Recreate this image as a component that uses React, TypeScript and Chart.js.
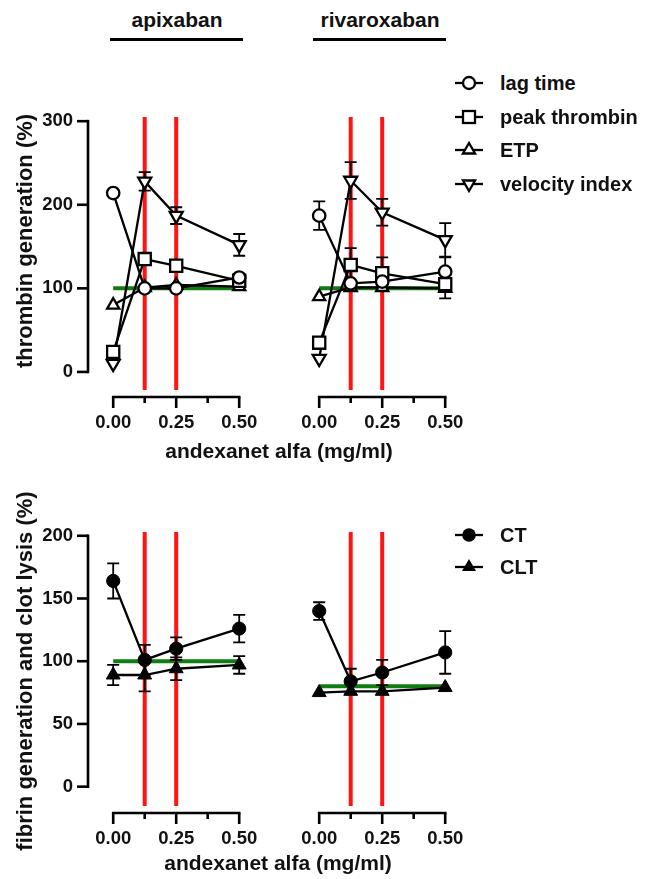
import React, { useEffect, useRef } from "react";
import { Chart, registerables } from "chart.js";

Chart.register(...registerables);

// ---------- data ----------
const doses = [0, 0.125, 0.25, 0.5];
const xTickValues = [0, 0.25, 0.5];
const xMinorTickValues = [0.125, 0.375];
const redLineDoses = [0.125, 0.25];

const tgTicks = [0, 100, 200, 300];
const fgTicks = [0, 50, 100, 150, 200];

// thrombin generation, apixaban
const apixLag = [214, 100, 100, 113];
const apixLagErr = [0, 0, 0, 0];
const apixPeak = [24, 135, 127, 109];
const apixPeakErr = [0, 0, 0, 0];
const apixEtp = [80, 101, 104, 102];
const apixEtpErr = [0, 0, 0, 0];
const apixVel = [10, 228, 187, 152];
const apixVelErr = [0, 11, 10, 13];

// thrombin generation, rivaroxaban
const rivaLag = [187, 106, 108, 120];
const rivaLagErr = [17, 0, 0, 17];
const rivaPeak = [35, 128, 118, 105];
const rivaPeakErr = [0, 20, 19, 17];
const rivaEtp = [90, 101, 101, 100];
const rivaEtpErr = [0, 0, 0, 0];
const rivaVel = [16, 229, 191, 158];
const rivaVelErr = [0, 22, 16, 20];

// fibrin generation & clot lysis
const apixCT = [164, 101, 110, 126];
const apixCTErr = [14, 12, 9, 11];
const apixCLT = [89, 89, 94, 97];
const apixCLTErr = [8, 13, 9, 7];
const rivaCT = [140, 84, 91, 107];
const rivaCTErr = [7, 10, 10, 17];
const rivaCLT = [75, 76, 76, 79];
const rivaCLTErr = [0, 0, 0, 0];

const baselineApixTG = 100;
const baselineRivaTG = 100;
const baselineApixFG = 100;
const baselineRivaFG = 80;

const tgLegend = ["lag time", "peak thrombin", "ETP", "velocity index"];
const fgLegend = ["CT", "CLT"];

// ---------- styling ----------
const FONT = "'Liberation Sans', Arial, Helvetica, sans-serif";
const TEXT = "#111111";
const RED = "#ff1414";
const GREEN = "rgb(16,125,16)";
const PAD_TOP = 20;
const X_AXIS_H = 45;
const Y_AXIS_W = 88;
const X_MIN = -0.1;
const X_MAX = 0.65;
const AREA_W = 189;

type Marker = "openCircle" | "openSquare" | "openTriUp" | "openTriDown" | "fillCircle" | "fillTriUp";

type Series = { values: number[]; errs: number[]; marker: Marker };

type PanelSpec = {
  areaLeft: number;
  areaTop: number;
  areaH: number;
  showY: boolean;
  yMin: number;
  yMax: number;
  yTicks: number[];
  baseline: number;
  series: Series[];
};

function markerStyle(m: Marker) {
  const base: any = {
    borderColor: "#000",
    pointBorderColor: "#000",
    borderWidth: 2.3,
    pointBorderWidth: 2.3,
    pointBackgroundColor: "#fff",
    pointRotation: 0,
  };
  switch (m) {
    case "openCircle":
      return { ...base, pointStyle: "circle", pointRadius: 6.2 };
    case "openSquare":
      return { ...base, pointStyle: "rect", pointRadius: 8.6 };
    case "openTriUp":
      return { ...base, pointStyle: "triangle", pointRadius: 7 };
    case "openTriDown":
      return { ...base, pointStyle: "triangle", pointRadius: 7.5, pointRotation: 180 };
    case "fillCircle":
      return { ...base, pointStyle: "circle", pointRadius: 6.6, pointBackgroundColor: "#000", pointBorderWidth: 1 };
    case "fillTriUp":
      return { ...base, pointStyle: "triangle", pointRadius: 8, pointBackgroundColor: "#000", pointBorderWidth: 1 };
  }
}

function makeDecorPlugin(spec: PanelSpec) {
  return {
    id: "decor",
    beforeDatasetsDraw(chart: any) {
      const { ctx, chartArea } = chart;
      const x = chart.scales.x;
      const y = chart.scales.y;
      ctx.save();
      ctx.lineCap = "butt";

      // green reference line
      ctx.strokeStyle = GREEN;
      ctx.lineWidth = 4;
      ctx.beginPath();
      ctx.moveTo(x.getPixelForValue(doses[0]), y.getPixelForValue(spec.baseline));
      ctx.lineTo(x.getPixelForValue(doses[doses.length - 1]), y.getPixelForValue(spec.baseline));
      ctx.stroke();

      // red vertical lines
      ctx.strokeStyle = RED;
      ctx.lineWidth = 4;
      for (const d of redLineDoses) {
        const px = x.getPixelForValue(d);
        ctx.beginPath();
        ctx.moveTo(px, chartArea.top);
        ctx.lineTo(px, chartArea.bottom - 7);
        ctx.stroke();
      }

      // axes
      ctx.strokeStyle = "#000";
      ctx.lineWidth = 2.6;
      const bottom = chartArea.bottom;
      const x0 = x.getPixelForValue(xTickValues[0]);
      const x1 = x.getPixelForValue(xTickValues[xTickValues.length - 1]);
      ctx.beginPath();
      ctx.moveTo(x0 - 1.3, bottom);
      ctx.lineTo(x1 + 1.3, bottom);
      ctx.stroke();
      for (const v of xTickValues) {
        const px = x.getPixelForValue(v);
        ctx.beginPath();
        ctx.moveTo(px, bottom);
        ctx.lineTo(px, bottom + 11);
        ctx.stroke();
      }
      for (const v of xMinorTickValues) {
        const px = x.getPixelForValue(v);
        ctx.beginPath();
        ctx.moveTo(px, bottom);
        ctx.lineTo(px, bottom + 6);
        ctx.stroke();
      }
      if (spec.showY) {
        const left = chartArea.left;
        const yb = y.getPixelForValue(spec.yTicks[0]);
        const yt = y.getPixelForValue(spec.yTicks[spec.yTicks.length - 1]);
        ctx.beginPath();
        ctx.moveTo(left, yb + 1.3);
        ctx.lineTo(left, yt - 1.3);
        ctx.stroke();
        for (const v of spec.yTicks) {
          const py = y.getPixelForValue(v);
          ctx.beginPath();
          ctx.moveTo(left - 11, py);
          ctx.lineTo(left, py);
          ctx.stroke();
        }
      }

      // error bars
      ctx.lineWidth = 1.8;
      ctx.strokeStyle = "#000";
      for (const s of spec.series) {
        s.values.forEach((v, i) => {
          const e = s.errs[i];
          if (!e) return;
          const px = x.getPixelForValue(doses[i]);
          const pTop = y.getPixelForValue(v + e);
          const pBot = y.getPixelForValue(v - e);
          ctx.beginPath();
          ctx.moveTo(px, pTop);
          ctx.lineTo(px, pBot);
          ctx.moveTo(px - 6, pTop);
          ctx.lineTo(px + 6, pTop);
          ctx.moveTo(px - 6, pBot);
          ctx.lineTo(px + 6, pBot);
          ctx.stroke();
        });
      }
      ctx.restore();
    },
  };
}

function Panel({ spec }: { spec: PanelSpec }) {
  const ref = useRef<HTMLCanvasElement>(null);
  const yW = spec.showY ? Y_AXIS_W : 0;
  const w = yW + AREA_W;
  const h = PAD_TOP + spec.areaH + X_AXIS_H;
  const left = spec.areaLeft - yW;
  const top = spec.areaTop - PAD_TOP;

  useEffect(() => {
    const canvas = ref.current!;
    const tickFont = { family: FONT, size: 18.5, weight: "bold" as const };
    const chart = new Chart(canvas, {
      type: "line",
      data: {
        datasets: spec.series.map((s) => ({
          data: doses.map((d, i) => ({ x: d, y: s.values[i] })),
          fill: false,
          tension: 0,
          clip: false as any,
          ...markerStyle(s.marker),
        })),
      },
      options: {
        animation: false,
        responsive: false,
        maintainAspectRatio: false,
        events: [],
        layout: { autoPadding: false, padding: { top: PAD_TOP, left: 0, right: 0, bottom: 0 } },
        plugins: { legend: { display: false }, tooltip: { enabled: false } },
        scales: {
          x: {
            type: "linear",
            min: X_MIN,
            max: X_MAX,
            grid: { display: false, drawTicks: false },
            border: { display: false },
            afterBuildTicks: (s: any) => {
              s.ticks = xTickValues.map((v) => ({ value: v }));
            },
            afterFit: (s: any) => {
              s.height = X_AXIS_H;
              s.paddingLeft = 0;
              s.paddingRight = 0;
            },
            ticks: {
              autoSkip: false,
              maxRotation: 0,
              minRotation: 0,
              padding: 15,
              color: TEXT,
              font: tickFont,
              callback: (v: any) => Number(v).toFixed(2),
            },
          },
          y: {
            type: "linear",
            display: spec.showY,
            min: spec.yMin,
            max: spec.yMax,
            grid: { display: false, drawTicks: false },
            border: { display: false },
            afterBuildTicks: (s: any) => {
              s.ticks = spec.yTicks.map((v) => ({ value: v }));
            },
            afterFit: (s: any) => {
              s.width = spec.showY ? Y_AXIS_W : 0;
              s.paddingTop = 0;
              s.paddingBottom = 0;
            },
            ticks: {
              autoSkip: false,
              padding: 15,
              color: TEXT,
              font: tickFont,
              callback: (v: any) => String(v),
            },
          },
        },
      } as any,
      plugins: [makeDecorPlugin(spec)],
    });
    return () => chart.destroy();
  }, []);

  return (
    <canvas
      ref={ref}
      width={w}
      height={h}
      style={{ position: "absolute", left, top, width: w, height: h }}
    />
  );
}

function Icon({ marker }: { marker: Marker }) {
  let shape: any = null;
  const cx = 14;
  const cy = 10;
  switch (marker) {
    case "openCircle":
      shape = <circle cx={cx} cy={cy} r={6} fill="#fff" stroke="#000" strokeWidth={2.3} />;
      break;
    case "openSquare":
      shape = <rect x={cx - 6} y={cy - 6} width={12} height={12} fill="#fff" stroke="#000" strokeWidth={2.3} />;
      break;
    case "openTriUp":
      shape = (
        <polygon
          points={`${cx},${cy - 7} ${cx + 6.06},${cy + 3.5} ${cx - 6.06},${cy + 3.5}`}
          fill="#fff"
          stroke="#000"
          strokeWidth={2.3}
        />
      );
      break;
    case "openTriDown":
      shape = (
        <polygon
          points={`${cx},${cy + 7} ${cx + 6.06},${cy - 3.5} ${cx - 6.06},${cy - 3.5}`}
          fill="#fff"
          stroke="#000"
          strokeWidth={2.3}
        />
      );
      break;
    case "fillCircle":
      shape = <circle cx={cx} cy={cy} r={6.8} fill="#000" />;
      break;
    case "fillTriUp":
      shape = (
        <polygon
          points={`${cx},${cy - 8} ${cx + 7},${cy + 4} ${cx - 7},${cy + 4}`}
          fill="#000"
        />
      );
      break;
  }
  return (
    <svg width={29} height={20} viewBox="0 0 29 20" style={{ display: "block" }}>
      <line x1={0} y1={cy} x2={28} y2={cy} stroke="#000" strokeWidth={2.3} />
      {shape}
    </svg>
  );
}

function Legend({ labels, markers, top, step }: { labels: string[]; markers: Marker[]; top: number; step: number }) {
  return (
    <>
      {labels.map((lab, i) => (
        <div key={lab} style={{ position: "absolute", left: 455, top: top + i * step - 10, height: 20 }}>
          <div style={{ position: "absolute", left: 0, top: 0 }}>
            <Icon marker={markers[i]} />
          </div>
          <div
            style={{
              position: "absolute",
              left: 45,
              top: 10,
              transform: "translateY(-50%)",
              whiteSpace: "nowrap",
              fontFamily: FONT,
              fontWeight: "bold",
              fontSize: 20,
              lineHeight: "23px",
              color: TEXT,
            }}
          >
            {lab}
          </div>
        </div>
      ))}
    </>
  );
}

function Label({ text, cx, cy, size, rotate }: { text: string; cx: number; cy: number; size: number; rotate?: boolean }) {
  return (
    <div
      style={{
        position: "absolute",
        left: cx,
        top: cy,
        transform: `translate(-50%, -50%)${rotate ? " rotate(-90deg)" : ""}`,
        whiteSpace: "nowrap",
        fontFamily: FONT,
        fontWeight: "bold",
        fontSize: size,
        lineHeight: `${Math.round(size * 1.15)}px`,
        color: TEXT,
      }}
    >
      {text}
    </div>
  );
}

const tgMarkers: Marker[] = ["openCircle", "openSquare", "openTriUp", "openTriDown"];
const fgMarkers: Marker[] = ["fillCircle", "fillTriUp"];

const panels: PanelSpec[] = [
  {
    areaLeft: 88,
    areaTop: 117,
    areaH: 280,
    showY: true,
    yMin: -30,
    yMax: 305,
    yTicks: tgTicks,
    baseline: baselineApixTG,
    series: [
      { values: apixLag, errs: apixLagErr, marker: tgMarkers[0] },
      { values: apixPeak, errs: apixPeakErr, marker: tgMarkers[1] },
      { values: apixEtp, errs: apixEtpErr, marker: tgMarkers[2] },
      { values: apixVel, errs: apixVelErr, marker: tgMarkers[3] },
    ],
  },
  {
    areaLeft: 294,
    areaTop: 117,
    areaH: 280,
    showY: false,
    yMin: -30,
    yMax: 305,
    yTicks: tgTicks,
    baseline: baselineRivaTG,
    series: [
      { values: rivaLag, errs: rivaLagErr, marker: tgMarkers[0] },
      { values: rivaPeak, errs: rivaPeakErr, marker: tgMarkers[1] },
      { values: rivaEtp, errs: rivaEtpErr, marker: tgMarkers[2] },
      { values: rivaVel, errs: rivaVelErr, marker: tgMarkers[3] },
    ],
  },
  {
    areaLeft: 88,
    areaTop: 532,
    areaH: 281,
    showY: true,
    yMin: -21,
    yMax: 203,
    yTicks: fgTicks,
    baseline: baselineApixFG,
    series: [
      { values: apixCT, errs: apixCTErr, marker: fgMarkers[0] },
      { values: apixCLT, errs: apixCLTErr, marker: fgMarkers[1] },
    ],
  },
  {
    areaLeft: 294,
    areaTop: 532,
    areaH: 281,
    showY: false,
    yMin: -21,
    yMax: 203,
    yTicks: fgTicks,
    baseline: baselineRivaFG,
    series: [
      { values: rivaCT, errs: rivaCTErr, marker: fgMarkers[0] },
      { values: rivaCLT, errs: rivaCLTErr, marker: fgMarkers[1] },
    ],
  },
];

export default function App() {
  return (
    <div
      style={{
        position: "absolute",
        left: 0,
        top: 0,
        width: 645,
        height: 879,
        background: "#fff",
        overflow: "hidden",
      }}
    >
      {panels.map((p, i) => (
        <Panel key={i} spec={p} />
      ))}

      <Label text="apixaban" cx={177} cy={20} size={21} />
      <div style={{ position: "absolute", left: 110, top: 38, width: 133, height: 2.5, background: "#000" }} />
      <Label text="rivaroxaban" cx={380} cy={20} size={21} />
      <div style={{ position: "absolute", left: 313, top: 38, width: 133, height: 2.5, background: "#000" }} />

      <Label text="thrombin generation (%)" cx={24} cy={241} size={22} rotate />
      <Label text="fibrin generation and clot lysis (%)" cx={24} cy={671} size={22} rotate />
      <Label text="andexanet alfa (mg/ml)" cx={279} cy={451} size={21} />
      <Label text="andexanet alfa (mg/ml)" cx={278} cy={863} size={21} />

      <Legend labels={tgLegend} markers={tgMarkers} top={83} step={33.7} />
      <Legend labels={fgLegend} markers={fgMarkers} top={535} step={32} />
    </div>
  );
}
